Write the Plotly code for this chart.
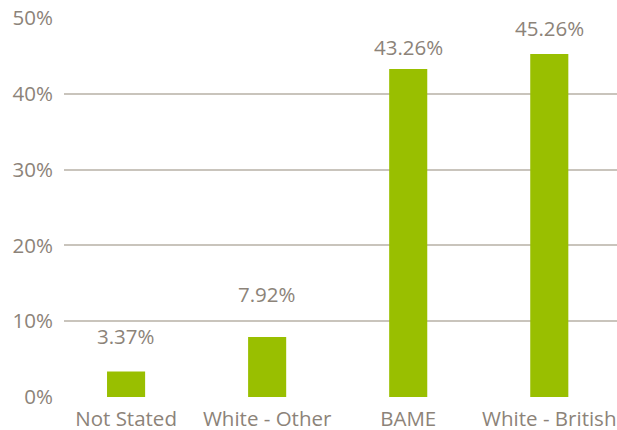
import plotly.graph_objects as go

categories = ["Not Stated", "White - Other", "BAME", "White - British"]
shares = [3.37, 7.92, 43.26, 45.26]
y_ticks = [0, 10, 20, 30, 40, 50]
y_tick_labels = ["0%", "10%", "20%", "30%", "40%", "50%"]

# vertical gap (px) between each bar top and its value label
label_gaps = [24, 32, 11, 15]

text_color = "#8c8379"
grid_color = "#c9c4bc"
bar_color = "#99bf00"
font_family = "Open Sans, Lato, sans-serif"
font_size = 20.5

fig = go.Figure()
fig.add_trace(go.Bar(
    x=list(range(len(categories))),
    y=shares,
    width=0.27,
    marker=dict(color=bar_color, line=dict(width=0)),
    hoverinfo="skip",
))

for i, v in enumerate(shares):
    fig.add_annotation(
        x=i, y=v, text=f"{v:.2f}%", showarrow=False,
        yanchor="bottom", yshift=label_gaps[i] - 5,
        font=dict(size=font_size, color=text_color, family=font_family),
    )

fig.update_layout(
    width=617, height=430,
    margin=dict(l=64, r=0, t=18, b=33),
    paper_bgcolor="white", plot_bgcolor="white",
    showlegend=False,
    font=dict(family=font_family, color=text_color, size=font_size),
    xaxis=dict(
        range=[-0.44, 3.48],
        tickmode="array",
        tickvals=list(range(len(categories))),
        ticktext=categories,
        showgrid=False, zeroline=False, showline=False,
        ticks="", ticklabelstandoff=7,
        ticklabeloverflow="allow", automargin=False,
        tickfont=dict(size=font_size, color=text_color, family=font_family),
        fixedrange=True,
    ),
    yaxis=dict(
        range=[0, 50],
        tickmode="array",
        tickvals=y_ticks,
        ticktext=y_tick_labels,
        showgrid=True, gridcolor=grid_color, gridwidth=2,
        zeroline=False, showline=False,
        ticks="", ticklabelstandoff=10, automargin=False,
        tickfont=dict(size=font_size, color=text_color, family=font_family),
        fixedrange=True,
    ),
)

fig.write_html("out.html")
